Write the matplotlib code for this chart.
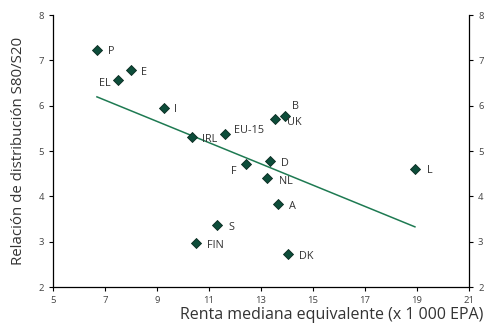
import numpy as np
import matplotlib.pyplot as plt

# country data: median equivalent income (x 1000 PPS) vs S80/S20 ratio
countries = ['P', 'EL', 'E', 'I', 'IRL', 'EU-15', 'F', 'D', 'NL', 'B', 'UK',
             'A', 'DK', 'L', 'S', 'FIN']
renta = [6.69, 7.5, 8.0, 9.27, 10.35, 11.6, 12.42, 13.35, 13.23, 13.92, 13.54,
         13.65, 14.04, 18.92, 11.31, 10.5]
ratio = [7.23, 6.57, 6.79, 5.95, 5.31, 5.37, 4.71, 4.78, 4.40, 5.78, 5.70,
         3.83, 2.72, 4.60, 3.36, 2.97]
# label offsets in pixels and alignment
lab_dx = [11, -7, 10, 10, 10, 9, -9, 11, 12, 7, 12, 11, 11, 12, 11, 11]
lab_dy = [-2, -4, -3, -2, -3, 4, -7, -3, -3, 9, -3, -2, -2, -1, -2, -2]
lab_ha = ['left', 'right', 'left', 'left', 'left', 'left', 'right', 'left',
          'left', 'left', 'left', 'left', 'left', 'left', 'left', 'left']

xticks = [5, 7, 9, 11, 13, 15, 17, 19, 21]
yticks = [2, 3, 4, 5, 6, 7, 8]

plt.rcParams['font.family'] = ['Open Sans', 'DejaVu Sans']

fig = plt.figure(figsize=(4.84, 3.27), dpi=100)
ax = fig.add_axes([0.1095, 0.1223, 0.8595, 0.8317])

x = np.array(renta)
y = np.array(ratio)
# least squares trend line
a, b = np.polyfit(x, y, 1)
xl = np.array([x.min(), x.max()])
ax.plot(xl, a * xl + b, color='#1e7a52', lw=1.1, zorder=2)

ax.scatter(x, y, marker='D', s=26, color='#0d4d3a', edgecolors='#0a2a20',
           linewidths=0.6, zorder=3)

for i in range(len(countries)):
    ax.annotate(countries[i], (renta[i], ratio[i]), xytext=(lab_dx[i], lab_dy[i]),
                textcoords='offset pixels', ha=lab_ha[i], va='center',
                fontsize=7.8, color='#333333')

ax.set_xlim(5, 21)
ax.set_ylim(2, 8)
ax.set_xticks(xticks)
ax.set_yticks(yticks)
ax.spines['top'].set_visible(False)
ax.tick_params(axis='both', labelsize=6.8, length=3, width=0.8, direction='out')
ax.tick_params(axis='x', colors='black', labelcolor='#444444')
ax.tick_params(axis='y', colors='black', labelcolor='#444444', right=True,
               labelright=True)
for s in ['left', 'right', 'bottom']:
    ax.spines[s].set_linewidth(0.9)

ax.set_xlabel('Renta mediana equivalente (x 1 000 EPA)', fontsize=11.5,
              color='#333333', ha='right')
ax.xaxis.set_label_coords(1.035, -0.075)
ax.set_ylabel('Relación de distribución S80/S20', fontsize=10.8, color='#333333',
              labelpad=9)

fig.savefig('out.png', dpi=100)
